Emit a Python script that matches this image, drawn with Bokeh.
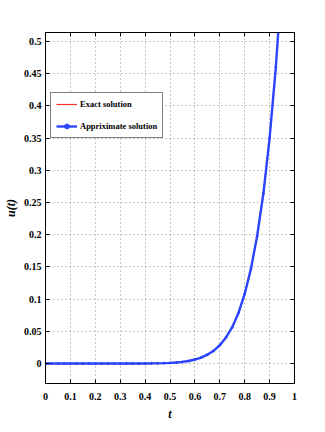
from bokeh.plotting import figure
from bokeh.models import (LinearAxis, FixedTicker, CustomJSTickFormatter, Range1d,
                          Legend, LegendItem)
from bokeh.embed import file_html
from bokeh.resources import INLINE

# ---- data ----
t_vals = [0.0, 0.025, 0.05, 0.075, 0.1, 0.125, 0.15, 0.175, 0.2, 0.225, 0.25, 0.275,
          0.3, 0.325, 0.35, 0.375, 0.4, 0.425, 0.45, 0.475, 0.5, 0.525, 0.55, 0.575,
          0.6, 0.625, 0.65, 0.675, 0.7, 0.725, 0.75, 0.775, 0.8, 0.825, 0.85, 0.875,
          0.9, 0.925, 0.95, 0.975, 1.0]
u_exact = [0.0, 0.0, 0.0, 0.0, 0.0, 0.0, 0.0, 0.0, 0.0, 0.0, 0.0, 0.0,
           0.0, 0.0, 0.0, 0.0001, 0.0001, 0.0002, 0.0003, 0.0006, 0.001, 0.0016, 0.0025, 0.004,
           0.0062, 0.0092, 0.0137, 0.0198, 0.0285, 0.0405, 0.0565, 0.0785, 0.108, 0.147, 0.198, 0.264,
           0.35, 0.46, 0.6, 0.776, 1.0]
u_approx = [0.0, 0.0, 0.0, 0.0, 0.0, 0.0, 0.0, 0.0, 0.0, 0.0, 0.0, 0.0,
            0.0, 0.0, 0.0, 0.0001, 0.0001, 0.0002, 0.0003, 0.0006, 0.001, 0.0016, 0.0025, 0.004,
            0.0062, 0.0092, 0.0137, 0.0198, 0.0285, 0.0405, 0.0565, 0.0785, 0.108, 0.147, 0.198, 0.264,
            0.35, 0.46, 0.6, 0.776, 1.0]
x_ticks = [0, 0.1, 0.2, 0.3, 0.4, 0.5, 0.6, 0.7, 0.8, 0.9, 1]
x_tick_labels = ["0", "0.1", "0.2", "0.3", "0.4", "0.5", "0.6", "0.7", "0.8", "0.9", "1"]
y_ticks = [0, 0.05, 0.1, 0.15, 0.2, 0.25, 0.3, 0.35, 0.4, 0.45, 0.5]
y_tick_labels = ["0", "0.05", "0.1", "0.15", "0.2", "0.25", "0.3", "0.35", "0.4", "0.45", "0.5"]
series_names = ["Exact solution", "Appriximate solution"]

FONT = "Liberation Serif"

p = figure(width=317, height=424, output_backend="svg", toolbar_location=None,
           x_range=Range1d(0, 1), y_range=Range1d(-0.031, 0.514),
           min_border_left=42, min_border_right=23, min_border_top=32, min_border_bottom=41)
p.background_fill_color = "white"
p.border_fill_color = "white"
p.outline_line_color = "black"
p.outline_line_width = 1

for ax, ticks, labels in ((p.xaxis[0], x_ticks, x_tick_labels), (p.yaxis[0], y_ticks, y_tick_labels)):
    ax.ticker = FixedTicker(ticks=ticks)
    ax.major_label_overrides = {tk: lb for tk, lb in zip(ticks, labels)}
    ax.major_label_text_font = FONT
    ax.major_label_text_font_style = "bold"
    ax.major_label_text_font_size = "10px"
    ax.major_label_text_color = "black"
    ax.major_tick_in = 4
    ax.major_tick_out = 0
    ax.minor_tick_in = 0
    ax.minor_tick_out = 0
    ax.axis_line_color = "black"
    ax.major_tick_line_color = "black"
    ax.axis_label_text_font = FONT
    ax.axis_label_text_font_style = "bold italic"
    ax.axis_label_text_font_size = "12px"
    ax.axis_label_text_color = "black"

p.xaxis[0].axis_label = "t"
p.xaxis[0].major_label_standoff = 9
p.xaxis[0].axis_label_standoff = 4
p.yaxis[0].axis_label = "u(t)"
p.yaxis[0].major_label_standoff = 4
p.yaxis[0].axis_label_standoff = 3

# mirrored axes (ticks only) on top and right
for loc, ticks in (("above", x_ticks), ("right", y_ticks)):
    ax = LinearAxis(ticker=FixedTicker(ticks=ticks),
                    formatter=CustomJSTickFormatter(code="return ''"))
    ax.major_tick_in = 4
    ax.major_tick_out = 0
    ax.minor_tick_in = 0
    ax.minor_tick_out = 0
    ax.major_label_standoff = 0
    ax.axis_line_color = "black"
    ax.major_tick_line_color = "black"
    p.add_layout(ax, loc)

for g in (p.xgrid[0], p.ygrid[0]):
    g.grid_line_color = "#8c8c8c"
    g.grid_line_dash = "1 3"
    g.grid_line_width = 1
p.xgrid[0].ticker = FixedTicker(ticks=x_ticks)
p.ygrid[0].ticker = FixedTicker(ticks=y_ticks)

r_exact = p.line(t_vals, u_exact, line_color="#ff3030", line_width=1.2)
r_appr_line = p.line(t_vals, u_approx, line_color="#2a45ff", line_width=2.4)
r_appr_mark = p.scatter(t_vals, u_approx, marker="circle", size=2,
                        fill_color="#2a45ff", line_color="#2a45ff")

legend = Legend(items=[LegendItem(label=series_names[0], renderers=[r_exact]),
                       LegendItem(label=series_names[1], renderers=[r_appr_line, r_appr_mark])],
                location=(5, 245))
legend.label_text_font = FONT
legend.label_text_font_style = "bold"
legend.label_text_font_size = "8.5px"
legend.label_text_color = "black"
legend.border_line_color = "black"
legend.border_line_width = 1
legend.background_fill_color = "white"
legend.background_fill_alpha = 1
legend.glyph_width = 21
legend.glyph_height = 12
legend.label_height = 12
legend.spacing = 10
legend.padding = 5
legend.margin = 0
legend.label_standoff = 3
p.add_layout(legend, "center")

open("out.html", "w").write(file_html(p, INLINE))
